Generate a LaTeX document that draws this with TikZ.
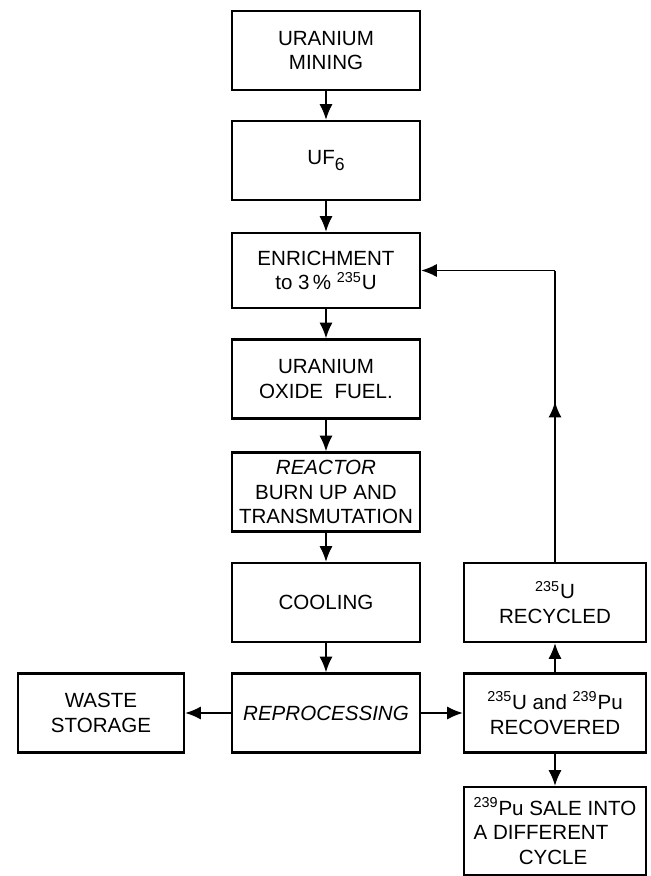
\documentclass[tikz,border=0pt]{standalone}
\usepackage{fontspec}
\setsansfont{Liberation Sans}
\usetikzlibrary{arrows.meta,calc,decorations.markings}

\begin{document}
\begin{tikzpicture}[x=0.02cm, y=-0.02cm, >={Latex[length=9pt,width=7.5pt]},
  every node/.style={font=\sffamily\fontsize{11.7}{14}\selectfont},
  stage/.style={draw, line width=1.2pt, minimum width=3.76cm, minimum height=1.58cm, align=center, inner sep=1pt},
  flow/.style={->, line width=1.1pt},
  midarrow/.style={decoration={markings, mark=at position 0.55 with {\arrow{>}}}, postaction={decorate}}]
\useasboundingbox (0,0) rectangle (650,876);
% main column
\node[stage] (mining) at (326,50.5) {URANIUM\\MINING};
\node[stage] (uf6) at (326,160.5) {\raisebox{-.8ex}{UF\raisebox{-.5ex}{\fontsize{10}{10}\selectfont 6}}};
\node[stage, minimum height=1.5cm] (enrich) at (326,270.5) {ENRICHMENT\\to 3\,\% \textsuperscript{235}U};
\node[stage] (oxide) at (326,379) {URANIUM\\OXIDE\ \ FUEL.};
\node[stage] (reactor) at (326,492) {\textit{REACTOR}\\BURN UP AND\\TRANSMUTATION};
\node[stage] (cooling) at (326,602.5) {COOLING};
\node[stage] (reproc) at (326,713) {\textit{REPROCESSING}};
% side boxes
\node[stage, minimum width=3.32cm] (waste) at (101,713) {WASTE\\STORAGE};
\node[stage, minimum width=3.64cm] (recyc) at (555,602.5) {\textsuperscript{235}U\\RECYCLED};
\node[stage, minimum width=3.64cm] (recov) at (555,713) {\textsuperscript{235}U and \textsuperscript{239}Pu\\RECOVERED};
\node[stage, minimum width=3.64cm, minimum height=1.76cm, align=left] (sale) at (555,831) {\textsuperscript{239}Pu SALE INTO\\A DIFFERENT\\\hspace*{2.2em}CYCLE};
% connectors
\draw[flow] (mining) -- (uf6);
\draw[flow] (uf6) -- (enrich);
\draw[flow] (enrich) -- (oxide);
\draw[flow] (oxide) -- (reactor);
\draw[flow] (reactor) -- (cooling);
\draw[flow] (cooling) -- (reproc);
\draw[flow] (reproc) -- (waste);
\draw[flow] (reproc) -- (recov);
\draw[flow] (recov) -- (recyc);
\draw[flow] (recov) -- (sale);
\coordinate (bend) at (recyc.north |- enrich.east);
\draw[line width=1.1pt, midarrow] (recyc.north) -- (bend);
\draw[flow] (bend) -- (enrich.east);
\end{tikzpicture}
\end{document}
